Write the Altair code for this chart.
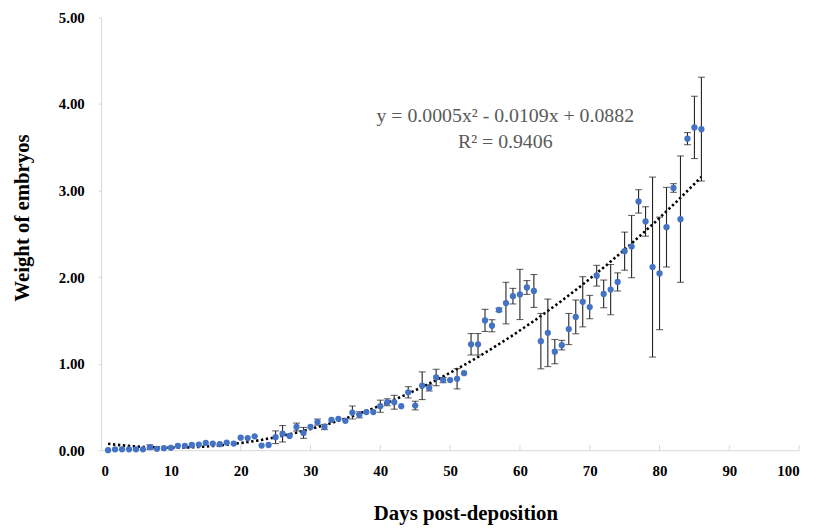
import altair as alt
import pandas as pd

days = list(range(1, 87))
weights = [
    0.00, 0.01, 0.01, 0.01, 0.01, 0.01, 0.035, 0.016, 0.023, 0.027,
    0.05, 0.05, 0.06, 0.065, 0.084, 0.077, 0.069, 0.088, 0.077, 0.145,
    0.14, 0.16, 0.054, 0.06, 0.15, 0.19, 0.165, 0.268, 0.20, 0.268,
    0.325, 0.268, 0.35, 0.363, 0.34, 0.435, 0.409, 0.44, 0.44, 0.508,
    0.554, 0.554, 0.508, 0.669, 0.516, 0.745, 0.72, 0.84, 0.81, 0.81,
    0.825, 0.89, 1.224, 1.224, 1.50, 1.438, 1.62, 1.70, 1.78, 1.80,
    1.88, 1.84, 1.26, 1.356, 1.139, 1.214, 1.40, 1.54, 1.715, 1.654,
    2.016, 1.806, 1.856, 1.944, 2.30, 2.353, 2.875, 2.643, 2.116, 2.043,
    2.577, 3.03, 2.67, 3.60, 3.73, 3.71,
]
errors = [
    0, 0, 0, 0, 0, 0, 0.026, 0, 0, 0,
    0, 0, 0, 0, 0, 0, 0, 0, 0, 0,
    0, 0, 0, 0, 0.073, 0.095, 0, 0.045, 0.063, 0,
    0.035, 0.03, 0, 0, 0, 0.075, 0.035, 0, 0, 0.07,
    0.04, 0.08, 0, 0.065, 0.05, 0.16, 0.036, 0.095, 0.03, 0,
    0.117, 0, 0.124, 0.124, 0.128, 0.07, 0.02, 0.24, 0.09, 0.29,
    0.08, 0.19, 0.32, 0.39, 0.14, 0.055, 0.18, 0.195, 0.29, 0.135,
    0.12, 0.16, 0.29, 0.105, 0.22, 0.36, 0.135, 0.17, 1.04, 0.65,
    0.46, 0.05, 0.73, 0.07, 0.36, 0.60,
]
x_ticks = [0, 10, 20, 30, 40, 50, 60, 70, 80, 90, 100]
y_ticks = [0, 1, 2, 3, 4, 5]
eq_line1 = "y = 0.0005x² - 0.0109x + 0.0882"
eq_line2 = "R² = 0.9406"

df = pd.DataFrame({"day": days, "w": weights, "err": errors})
df["lo"] = df["w"] - df["err"]
df["hi"] = df["w"] + df["err"]
ticks_df = pd.DataFrame({"t": x_ticks[1:]})

FONT = "Liberation Serif"
xs = alt.Scale(domain=[0, 100], nice=False)
ys = alt.Scale(domain=[0, 5], nice=False)

x_axis = alt.Axis(values=x_ticks, format="d", title="Days post-deposition",
                  titleX=368, titleY=64, titleBaseline="middle", titleAlign="center",
                  tickSize=0, labelPadding=14, grid=False)
y_axis = alt.Axis(values=y_ticks, format=".2f", title="Weight of embryos",
                  titleX=-79, titleY=202, titleBaseline="middle", titleAlign="center",
                  tickSize=3, labelPadding=14, grid=False)

base = alt.Chart(df)

points = base.mark_circle(size=40, color="#4472C4", opacity=1).encode(
    x=alt.X("day:Q", scale=xs, axis=x_axis),
    y=alt.Y("w:Q", scale=ys, axis=y_axis),
)

err_df = base.transform_filter("datum.err > 0")
bars = err_df.mark_rule(color="#222222", strokeWidth=1.1).encode(
    x="day:Q", y="lo:Q", y2="hi:Q"
)
cap_lo = err_df.mark_tick(color="#222222", size=7, thickness=1.1, orient="horizontal").encode(
    x="day:Q", y="lo:Q"
)
cap_hi = err_df.mark_tick(color="#222222", size=7, thickness=1.1, orient="horizontal").encode(
    x="day:Q", y="hi:Q"
)

trend = base.transform_regression(
    "day", "w", method="poly", order=2, extent=[1, 86]
).mark_line(color="black", strokeWidth=2.6, strokeDash=[2.4, 2.6]).encode(
    x="day:Q", y="w:Q"
)

xticks = alt.Chart(ticks_df).mark_rule(color="#d9d9d9", strokeWidth=1).encode(
    x=alt.X("t:Q", scale=xs), y=alt.datum(0), y2=alt.datum(0.06)
)

eq1 = alt.Chart().mark_text(font=FONT, fontSize=20, color="#595959", align="center",
                            baseline="middle").encode(
    x=alt.datum(57.9), y=alt.datum(3.86), text=alt.value(eq_line1)
)
eq2 = alt.Chart().mark_text(font=FONT, fontSize=20, color="#595959", align="center",
                            baseline="middle").encode(
    x=alt.datum(57.9), y=alt.datum(3.56), text=alt.value(eq_line2)
)

chart = alt.layer(xticks, trend, bars, cap_lo, cap_hi, points, eq1, eq2).properties(
    width=705, height=437,
    autosize=alt.AutoSizeParams(type="none"),
    padding={"left": 94, "top": 7, "right": 14, "bottom": 77},
).configure_view(stroke=None).configure_axis(
    domainColor="#d9d9d9", tickColor="#d9d9d9",
    labelFont=FONT, labelFontSize=15, labelFontWeight="bold", labelColor="black",
    titleFont=FONT, titleFontSize=21, titleFontWeight="bold", titleColor="black",
)

chart.save("out.html", embed_options={"renderer": "svg", "actions": False})
